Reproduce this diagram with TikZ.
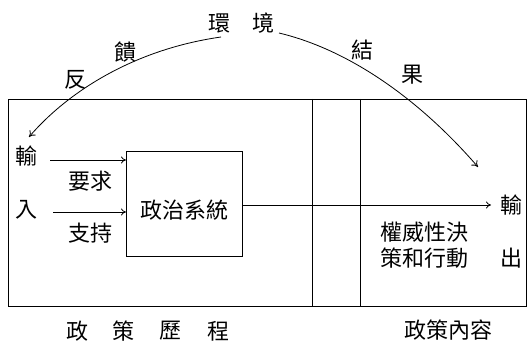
\documentclass[tikz,border=0pt]{standalone}
\usepackage{fontspec}
\setmainfont{Noto Sans CJK TC}
\usetikzlibrary{arrows.meta}
\begin{document}
\begin{tikzpicture}[x=1pt,y=-1pt,
  box/.style={draw,line width=0.9pt},
  lbl/.style={font=\fontsize{22}{24}\selectfont,inner sep=0pt},
  arr/.style={line width=0.8pt,-{To[length=5pt,width=7pt]}},
  crv/.style={line width=0.8pt,-{To[length=6pt,width=8pt]}}]
\useasboundingbox (0,0) rectangle (527,347);
% frames
\node[box,minimum width=518pt,minimum height=207pt,anchor=north west,inner sep=0pt] (outer) at (8,99) {};
\draw[line width=0.9pt] (312,99) coordinate (v1t) -- (312,306) coordinate (v1b);
\draw[line width=0.9pt] (360,99) coordinate (v2t) -- (360,306) coordinate (v2b);
\node[box,minimum width=116pt,minimum height=105pt,anchor=north west,inner sep=0pt] (sys) at (126,151) {};
\node[lbl] (systxt) at (184,210) {政治系統};
% input side
\node[lbl] (in1) at (26,156) {輸};
\node[lbl] (in2) at (27,210) {入};
\node[lbl] (dem) at (90,181) {要求};
\node[lbl] (sup) at (90,233) {支持};
\coordinate (d0) at (50,160);
\coordinate (d1) at (126,160);
\coordinate (s0) at (53,212);
\coordinate (s1) at (126,212);
\draw[arr] (d0) -- (d1);
\draw[arr] (s0) -- (s1);
% output
\coordinate (o0) at (242,205);
\coordinate (o1) at (491,205);
\draw[arr] (o0) -- (o1);
\node[lbl] (out1) at (511,205) {輸};
\node[lbl] (out2) at (511,258) {出};
\node[lbl,align=left,font=\fontsize{22}{26}\selectfont] (auth) at (424,245) {權威性決\\策和行動};
% environment
\node[lbl] (env1) at (219,23) {環};
\node[lbl] (env2) at (263,23) {境};
\node[lbl] (fb1) at (75,80) {反};
\node[lbl] (fb2) at (125,52) {饋};
\node[lbl] (r1) at (362,50) {結};
\node[lbl] (r2) at (412,75) {果};
\coordinate (c0) at (221,37);
\coordinate (c1) at (29,137);
\coordinate (c2) at (279,33);
\coordinate (c3) at (478,167);
\draw[crv] (c0) .. controls (130,50) and (65,95) .. (c1);
\draw[crv] (c2) .. controls (350,50) and (420,100) .. (c3);
% bottom captions
\node[lbl] (p1) at (77,331) {政};
\node[lbl] (p2) at (123,331) {策};
\node[lbl] (p3) at (170,331) {歷};
\node[lbl] (p4) at (218,331) {程};
\node[lbl] (pc) at (448,330) {政策內容};
\end{tikzpicture}
\end{document}
